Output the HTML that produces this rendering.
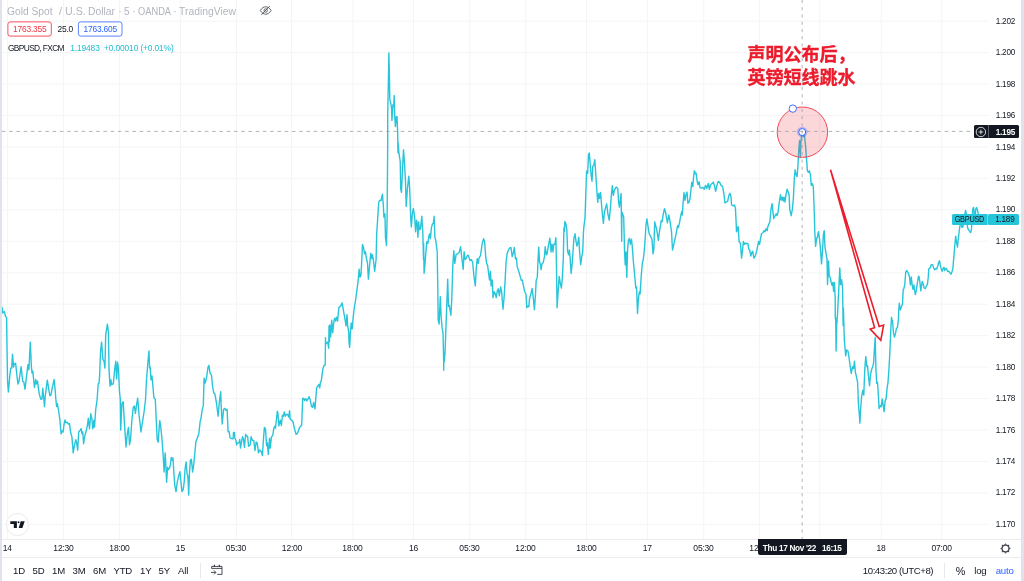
<!DOCTYPE html>
<html><head><meta charset="utf-8"><title>chart</title>
<style>
*{box-sizing:border-box;margin:0;padding:0}
html,body{width:1024px;height:581px;overflow:hidden;background:#fff}
body{position:relative;font-family:"Liberation Sans","Noto Sans CJK SC",sans-serif;color:#131722}
.chart{position:absolute;left:0;top:0}
.band{position:absolute;top:0;height:581px;background:#e0e3eb}
.pl{position:absolute;left:990px;width:25px;text-align:right;font-size:8.2px;line-height:10px;height:10px;color:#131722;letter-spacing:-0.25px;white-space:nowrap}
.tl{position:absolute;top:542.9px;width:40px;text-align:center;font-size:8.5px;line-height:10px;color:#131722;letter-spacing:-0.2px;white-space:nowrap}
.hline{position:absolute;left:2px;width:1019px;background:#eaecf2}
.title{position:absolute;left:8px;top:4.6px;font-size:10.5px;line-height:12px;color:#b2b5be;white-space:nowrap}
.title span{position:absolute;top:0;display:block;transform-origin:0 50%;white-space:nowrap}
.box{position:absolute;top:21.5px;height:15.2px;width:44.5px;border:1px solid transparent;border-radius:2.5px;font-size:8.4px;line-height:13.2px;text-align:center;letter-spacing:-0.2px}
.leg{position:absolute;top:42.5px;font-size:8.4px;line-height:11px;white-space:nowrap;letter-spacing:-0.2px}
.note{position:absolute;left:747.5px;top:44px;font-size:18px;line-height:22.6px;font-weight:700;-webkit-text-stroke:0.35px #ec1c2c;color:#ec1c2c;white-space:nowrap;font-family:"Liberation Sans","Noto Sans CJK SC",sans-serif}
.tag{position:absolute;height:11px;font-size:8.2px;line-height:11px;white-space:nowrap;letter-spacing:-0.25px}
.bt{position:absolute;top:564.5px;font-size:9.6px;line-height:12px;color:#131722;white-space:nowrap;letter-spacing:-0.2px}
.vsep{position:absolute;top:563px;height:14.5px;width:1.2px;background:#e6e9ef}
</style></head><body>
<svg class="chart" width="1024" height="581" viewBox="0 0 1024 581">
<line x1="7.4" y1="0" x2="7.4" y2="539" stroke="#f4f5f7" stroke-width="1"/>
<line x1="63.5" y1="0" x2="63.5" y2="539" stroke="#f4f5f7" stroke-width="1"/>
<line x1="119.5" y1="0" x2="119.5" y2="539" stroke="#f4f5f7" stroke-width="1"/>
<line x1="180.5" y1="0" x2="180.5" y2="539" stroke="#f4f5f7" stroke-width="1"/>
<line x1="236.5" y1="0" x2="236.5" y2="539" stroke="#f4f5f7" stroke-width="1"/>
<line x1="291.5" y1="0" x2="291.5" y2="539" stroke="#f4f5f7" stroke-width="1"/>
<line x1="353" y1="0" x2="353" y2="539" stroke="#f4f5f7" stroke-width="1"/>
<line x1="413.5" y1="0" x2="413.5" y2="539" stroke="#f4f5f7" stroke-width="1"/>
<line x1="469.7" y1="0" x2="469.7" y2="539" stroke="#f4f5f7" stroke-width="1"/>
<line x1="525.7" y1="0" x2="525.7" y2="539" stroke="#f4f5f7" stroke-width="1"/>
<line x1="586.5" y1="0" x2="586.5" y2="539" stroke="#f4f5f7" stroke-width="1"/>
<line x1="647.5" y1="0" x2="647.5" y2="539" stroke="#f4f5f7" stroke-width="1"/>
<line x1="703.7" y1="0" x2="703.7" y2="539" stroke="#f4f5f7" stroke-width="1"/>
<line x1="759.5" y1="0" x2="759.5" y2="539" stroke="#f4f5f7" stroke-width="1"/>
<line x1="819.7" y1="0" x2="819.7" y2="539" stroke="#f4f5f7" stroke-width="1"/>
<line x1="881.25" y1="0" x2="881.25" y2="539" stroke="#f4f5f7" stroke-width="1"/>
<line x1="941.7" y1="0" x2="941.7" y2="539" stroke="#f4f5f7" stroke-width="1"/>
<line x1="2" y1="21.2" x2="988.5" y2="21.2" stroke="#f4f5f7" stroke-width="1"/>
<line x1="2" y1="52.6" x2="988.5" y2="52.6" stroke="#f4f5f7" stroke-width="1"/>
<line x1="2" y1="84.1" x2="988.5" y2="84.1" stroke="#f4f5f7" stroke-width="1"/>
<line x1="2" y1="115.5" x2="988.5" y2="115.5" stroke="#f4f5f7" stroke-width="1"/>
<line x1="2" y1="147.0" x2="988.5" y2="147.0" stroke="#f4f5f7" stroke-width="1"/>
<line x1="2" y1="178.4" x2="988.5" y2="178.4" stroke="#f4f5f7" stroke-width="1"/>
<line x1="2" y1="209.9" x2="988.5" y2="209.9" stroke="#f4f5f7" stroke-width="1"/>
<line x1="2" y1="241.3" x2="988.5" y2="241.3" stroke="#f4f5f7" stroke-width="1"/>
<line x1="2" y1="272.8" x2="988.5" y2="272.8" stroke="#f4f5f7" stroke-width="1"/>
<line x1="2" y1="304.2" x2="988.5" y2="304.2" stroke="#f4f5f7" stroke-width="1"/>
<line x1="2" y1="335.7" x2="988.5" y2="335.7" stroke="#f4f5f7" stroke-width="1"/>
<line x1="2" y1="367.1" x2="988.5" y2="367.1" stroke="#f4f5f7" stroke-width="1"/>
<line x1="2" y1="398.6" x2="988.5" y2="398.6" stroke="#f4f5f7" stroke-width="1"/>
<line x1="2" y1="430.0" x2="988.5" y2="430.0" stroke="#f4f5f7" stroke-width="1"/>
<line x1="2" y1="461.5" x2="988.5" y2="461.5" stroke="#f4f5f7" stroke-width="1"/>
<line x1="2" y1="492.9" x2="988.5" y2="492.9" stroke="#f4f5f7" stroke-width="1"/>
<line x1="2" y1="524.4" x2="988.5" y2="524.4" stroke="#f4f5f7" stroke-width="1"/>
<polyline points="2.0,307.2 2.7,313.0 4.3,311.5 5.5,316.4 6.6,317.7 7.0,348.6 7.6,381.8 8.4,392.0 9.8,375.9 10.7,368.1 11.7,368.1 12.5,354.1 13.5,367.1 14.3,363.8 15.2,364.2 15.6,363.2 17.2,377.9 18.0,384.1 18.9,381.8 21.1,366.6 22.7,381.4 23.8,381.8 25.0,389.2 26.6,375.9 27.9,364.6 28.9,369.7 30.3,342.1 31.4,367.1 32.0,373.0 32.8,371.1 34.4,387.3 35.7,379.5 36.5,384.1 37.5,381.0 39.1,393.1 40.0,396.8 41.0,399.4 42.0,398.8 42.8,388.2 44.5,406.6 45.3,395.5 47.3,380.2 48.8,389.6 49.8,395.5 50.8,395.5 52.3,387.7 54.1,379.5 55.3,391.6 55.7,397.8 56.6,406.6 57.4,403.7 58.6,410.5 59.8,419.3 61.1,433.9 62.1,431.0 63.1,432.0 64.1,424.2 65.0,419.9 66.0,422.8 67.4,422.2 68.4,424.2 69.5,423.6 70.7,433.0 71.9,436.9 73.2,452.9 74.6,444.7 75.8,439.8 76.6,442.3 77.7,450.2 78.7,432.0 80.1,430.6 81.2,428.5 82.0,433.9 82.8,432.0 83.6,443.7 84.8,435.9 85.9,432.0 87.3,426.1 88.3,418.3 89.5,428.7 90.8,413.8 91.8,418.3 92.8,428.7 93.8,420.3 94.5,427.1 95.7,409.5 97.1,399.8 98.2,383.8 99.0,383.4 99.6,375.9 100.6,350.5 101.6,342.1 102.9,359.3 104.1,361.3 104.9,368.1 105.7,334.9 107.4,324.2 108.4,332.0 109.0,368.1 110.0,386.1 110.9,379.8 111.7,384.7 113.3,383.8 114.8,368.1 115.8,361.3 116.6,378.9 117.6,362.3 118.4,368.1 119.5,391.6 120.3,399.8 120.7,430.0 121.9,403.7 123.2,401.7 124.2,419.3 126.0,447.0 127.3,433.9 128.5,427.5 129.5,444.7 130.5,439.8 131.8,421.2 133.2,407.6 134.4,406.0 135.4,413.4 136.3,406.6 137.7,398.2 139.1,415.4 141.0,432.0 142.6,421.2 144.1,411.5 145.5,399.8 146.5,379.8 147.9,362.3 149.0,350.9 149.6,368.1 150.2,367.1 151.0,379.8 152.0,375.9 153.9,397.8 155.3,399.4 156.2,419.3 157.2,439.8 158.2,442.3 159.2,427.1 159.8,420.7 160.9,428.1 162.1,440.8 163.1,454.5 164.1,472.0 165.2,452.9 165.8,464.2 166.6,482.2 167.6,467.1 168.4,469.7 169.5,468.1 170.3,465.2 171.3,457.4 172.3,460.3 173.0,458.0 173.8,472.0 174.8,485.7 176.0,491.6 177.3,481.8 178.7,475.9 179.9,471.6 180.9,481.8 182.0,491.6 183.2,489.6 184.2,481.8 185.2,468.1 186.1,461.9 187.1,474.0 187.9,475.9 188.7,495.1 189.5,472.0 190.4,460.3 191.4,459.3 192.6,472.0 193.8,464.2 194.9,452.5 195.9,441.6 197.4,437.7 198.8,433.8 200.2,421.1 200.9,419.1 202.1,410.3 203.3,405.4 204.1,378.1 205.2,383.0 206.6,377.1 208.0,367.3 208.9,365.4 210.1,373.2 211.5,375.2 212.5,385.9 213.8,393.1 214.8,393.7 216.4,402.5 218.1,416.2 219.3,402.5 220.7,391.8 221.2,406.4 222.2,424.0 223.6,409.3 224.8,408.4 225.9,410.3 227.1,409.3 228.1,431.8 229.1,431.4 230.0,437.7 231.4,438.6 233.1,438.8 233.5,432.5 234.5,432.5 234.8,438.0 235.9,440.3 236.6,445.0 237.4,443.0 239.0,442.7 239.8,439.5 240.5,448.1 241.7,441.1 242.5,436.8 243.4,438.8 244.5,447.3 245.6,434.5 246.6,436.0 247.6,436.4 248.6,446.2 250.2,445.0 251.1,436.8 252.3,440.3 253.8,440.7 255.0,450.5 256.2,441.9 257.3,443.4 258.5,452.8 259.7,450.1 261.2,451.6 262.4,455.5 263.6,437.2 264.4,427.4 265.5,429.0 266.6,445.8 267.3,442.7 268.3,454.4 269.5,438.4 270.2,448.1 271.4,437.2 272.8,435.2 273.8,428.6 274.7,426.2 275.5,428.2 277.3,411.3 277.9,413.2 278.9,425.9 279.8,422.0 280.4,420.1 281.4,425.5 282.4,415.2 283.4,416.2 284.3,411.9 285.3,416.2 286.7,414.2 287.7,414.6 288.8,417.1 289.6,410.7 290.2,419.1 291.6,420.1 293.1,422.0 294.5,428.9 296.1,434.3 297.4,433.4 299.4,427.9 300.5,426.5 301.7,425.0 302.7,398.6 303.7,398.2 304.6,400.5 305.8,398.6 306.8,400.9 308.2,398.6 309.1,396.6 310.1,399.6 311.5,406.4 312.7,407.4 313.6,402.5 315.0,408.8 316.6,387.9 317.9,385.9 318.9,384.5 319.7,387.9 320.5,382.0 321.2,381.4 322.8,369.3 324.0,365.4 325.2,365.0 325.5,337.7 325.7,343.9 327.7,342.0 328.7,348.2 329.0,325.9 329.5,341.6 329.8,325.0 330.7,336.7 331.7,320.1 332.7,332.8 333.7,323.0 334.6,318.1 335.6,321.1 336.6,317.1 337.6,321.1 338.9,307.4 340.5,306.4 342.1,302.9 343.4,310.3 345.0,319.1 346.0,325.9 347.0,314.6 347.7,325.9 348.7,331.8 349.0,341.6 349.6,347.4 350.0,341.6 350.3,333.8 351.2,323.0 352.2,328.9 353.2,317.1 354.2,308.4 355.5,300.5 357.1,288.8 358.3,279.1 359.1,269.3 360.0,277.1 361.0,275.2 361.6,263.4 362.5,244.5 363.6,247.8 364.5,253.7 365.3,251.7 366.5,258.6 367.5,263.4 368.4,279.1 369.6,265.4 370.8,253.3 371.8,258.6 372.3,254.6 373.3,259.5 374.7,271.2 376.1,259.5 376.7,233.8 377.7,218.1 378.7,202.5 379.6,200.5 381.0,200.5 382.4,194.3 383.4,206.4 383.9,217.1 384.9,213.8 385.5,237.7 386.5,245.5 387.1,218.1 387.5,169.3 387.7,143.9 387.7,115.2 388.4,80.1 388.9,52.9 389.5,80.1 389.8,99.4 390.7,102.9 391.6,108.2 391.9,120.4 393.0,104.6 393.7,106.4 394.2,95.5 394.7,115.2 395.4,126.6 396.3,116.9 397.0,116.6 397.7,132.7 397.8,143.9 398.0,152.7 398.1,142.4 399.0,153.7 400.2,161.5 400.7,188.8 401.5,192.3 402.5,169.3 403.5,149.8 404.5,163.4 405.4,179.1 406.2,206.4 407.4,188.8 408.8,176.1 409.7,188.8 410.7,218.1 411.3,226.9 412.3,214.2 413.4,208.4 414.6,217.1 415.6,231.8 416.6,220.1 417.3,224.0 417.9,237.3 418.7,222.0 419.5,229.8 420.5,228.9 421.8,216.2 422.8,231.8 423.5,259.5 423.6,243.5 424.1,273.2 424.9,265.4 425.9,251.7 426.9,241.6 427.9,243.5 428.9,235.7 429.8,233.8 430.4,238.6 431.4,227.9 432.4,224.0 433.4,223.0 434.1,216.2 434.9,237.7 435.7,240.0 437.2,251.7 437.8,288.8 438.2,320.1 439.1,324.0 440.3,296.6 441.1,316.2 442.1,327.9 443.0,332.8 443.7,362.0 443.7,370.3 443.8,353.1 444.2,362.0 445.0,353.1 446.0,325.9 447.0,298.6 447.7,279.1 448.5,306.4 449.3,305.4 450.9,315.2 451.8,298.6 452.8,265.4 453.8,250.7 454.8,263.4 456.1,254.6 457.7,253.7 459.1,252.7 460.6,246.8 462.0,259.5 463.2,269.3 464.1,251.7 465.1,259.5 466.1,258.6 467.5,255.2 468.4,255.6 470.0,260.5 471.4,259.5 472.7,262.5 473.9,276.1 475.3,285.9 476.2,269.3 477.2,258.6 478.2,263.4 479.2,257.6 480.5,255.6 482.2,243.5 483.6,238.6 484.7,242.5 485.6,255.6 486.6,263.4 487.6,265.4 488.6,273.2 489.5,280.0 490.5,271.2 491.1,285.9 492.3,280.0 493.0,297.6 494.2,291.8 495.2,293.7 496.2,297.6 497.3,290.8 498.3,288.8 499.3,295.7 500.7,286.9 501.6,291.8 503.0,309.3 504.0,298.6 505.2,279.1 506.1,261.5 507.1,253.7 508.5,249.8 509.8,247.8 511.0,247.8 512.2,256.6 513.4,252.7 514.3,247.4 515.5,258.8 516.4,257.9 517.2,266.6 518.8,271.5 520.2,276.4 521.3,280.3 522.3,279.9 523.7,287.1 524.8,292.0 526.0,294.0 526.8,307.7 528.0,306.1 528.8,306.7 529.5,298.9 531.1,293.0 532.1,288.5 533.4,298.9 534.4,309.6 535.4,295.9 536.2,280.3 537.3,277.4 538.1,258.8 538.7,247.1 539.5,261.8 540.5,264.7 541.1,269.6 542.0,263.7 543.2,262.7 544.4,256.9 545.2,246.7 546.3,254.9 547.1,253.9 548.3,246.1 549.8,238.3 550.6,245.2 551.0,252.0 552.0,244.2 553.0,252.0 553.8,244.2 554.9,244.2 555.9,237.7 556.5,268.6 557.1,307.7 558.0,294.0 559.2,276.4 560.4,284.2 561.4,288.1 562.3,278.4 563.3,258.8 563.9,227.7 564.3,231.5 564.9,221.4 565.9,223.8 566.8,229.6 567.6,251.0 568.6,254.9 569.4,250.0 570.2,258.8 571.1,273.5 572.1,264.7 572.9,253.0 573.9,238.3 575.0,233.8 576.0,241.2 577.0,246.1 577.8,243.2 578.8,237.3 579.7,253.0 580.7,264.7 581.7,256.9 582.7,252.0 583.4,233.4 583.8,227.7 585.0,217.9 585.8,194.5 586.6,171.0 587.7,173.4 588.5,154.4 589.3,153.0 590.3,165.2 591.2,175.9 592.0,181.2 592.8,166.1 593.8,165.2 594.8,159.7 595.7,173.0 596.7,188.6 597.7,202.3 598.7,193.5 599.6,198.4 600.6,192.5 601.8,208.1 603.4,223.4 604.5,212.0 605.7,207.1 606.7,203.8 607.9,214.0 609.2,220.2 610.4,208.1 611.4,194.5 612.3,185.7 613.3,195.4 614.3,190.5 615.7,187.6 616.6,187.2 617.8,188.6 618.6,202.3 619.4,207.1 620.2,200.3 621.1,193.5 621.7,241.2 621.9,212.0 623.7,216.9 624.6,253.0 625.2,264.7 626.0,252.0 626.8,277.4 627.6,249.1 628.4,240.3 629.5,238.3 630.3,244.2 631.5,239.3 632.3,247.1 633.4,261.8 634.6,274.5 635.8,288.1 636.6,287.1 637.5,313.5 638.5,297.9 639.3,292.0 640.1,294.0 641.2,276.4 642.4,262.7 643.4,258.8 644.4,249.1 645.4,235.4 645.9,225.7 646.9,218.9 647.9,225.7 649.1,233.4 650.6,236.4 652.0,239.3 653.0,253.9 653.9,249.1 654.7,221.8 656.7,229.6 657.5,234.4 658.4,240.3 659.2,233.4 661.2,220.8 662.1,221.8 663.1,215.0 664.5,208.7 665.5,212.0 666.4,216.9 667.4,222.8 668.8,215.0 669.8,219.8 670.9,227.7 671.5,231.5 672.5,250.0 674.1,243.2 675.6,236.4 677.6,225.7 678.4,227.7 679.5,222.8 680.7,215.9 681.7,211.6 682.3,215.0 683.0,204.2 684.0,192.5 685.0,200.3 686.0,194.5 687.0,192.1 687.9,203.2 688.9,202.3 689.9,199.3 690.9,190.5 691.8,182.3 692.8,186.6 693.6,176.9 694.4,170.6 695.4,173.9 696.1,173.0 697.1,180.8 697.9,184.7 699.1,181.8 700.0,187.6 701.2,188.2 702.9,187.4 704.3,189.3 705.5,185.4 706.8,188.4 708.2,183.5 709.4,189.3 710.7,184.5 712.1,183.5 713.3,182.1 714.6,186.4 715.6,191.3 717.2,184.5 718.2,181.5 719.5,182.1 721.1,185.4 722.5,186.4 723.8,193.2 725.0,203.0 726.4,202.0 727.7,201.1 728.9,195.2 729.9,193.2 730.9,196.2 731.6,205.0 733.2,205.9 734.4,205.0 735.4,207.9 736.1,221.6 736.5,231.7 738.1,226.4 739.1,241.5 740.4,243.4 741.6,258.1 742.6,249.3 743.4,241.5 744.5,244.4 745.7,243.0 746.9,243.8 747.9,243.4 748.8,249.3 749.8,250.3 750.8,256.1 752.0,252.2 752.7,251.2 753.9,258.1 755.3,256.1 756.6,251.2 757.8,245.4 758.6,241.5 759.6,244.4 760.5,238.6 761.5,233.7 762.9,232.7 764.1,230.7 765.0,231.7 766.0,228.8 767.2,230.7 767.6,227.4 769.9,221.6 770.9,209.8 772.1,203.6 772.9,211.8 773.8,218.6 775.0,215.7 776.2,213.8 777.1,215.7 778.1,211.8 779.3,202.0 780.5,194.8 781.4,200.1 782.4,197.1 783.2,201.1 784.0,197.1 785.0,202.0 785.9,195.2 787.1,189.3 788.3,192.3 789.1,195.2 789.8,209.8 791.2,215.7 792.4,208.9 793.4,198.1 794.3,178.6 795.1,169.8 796.1,174.7 797.1,176.6 798.0,164.9 798.8,149.3 799.6,140.5 800.4,157.1 801.0,141.5 802.0,131.7 803.5,136.6 804.5,135.6 805.5,145.4 806.4,157.1 807.4,170.8 808.4,172.3 809.4,170.8 810.4,174.7 811.3,185.4 812.3,183.5 813.3,186.4 813.9,202.0 814.6,223.5 814.8,231.7 815.6,246.4 816.6,238.6 817.6,236.6 818.4,231.7 819.5,238.6 820.5,249.3 821.5,263.9 822.5,251.2 823.4,234.6 824.2,230.7 825.0,247.3 826.0,253.2 827.0,259.1 827.5,284.5 828.5,261.0 829.3,276.6 830.3,277.6 831.2,282.5 832.0,285.4 832.8,282.5 833.6,291.3 834.4,282.5 835.2,298.1 835.3,318.8 835.7,317.7 836.1,351.0 836.7,324.6 837.3,318.2 838.3,298.1 839.3,278.6 839.8,267.9 840.6,284.5 841.6,279.6 842.6,288.4 843.1,325.6 843.4,307.9 844.3,339.3 845.7,355.9 846.6,350.0 848.0,351.0 849.2,358.8 850.2,366.6 851.3,373.5 852.5,366.6 853.5,368.6 854.5,361.2 855.4,372.5 856.4,376.4 857.6,382.3 858.4,403.8 859.1,411.6 859.9,423.1 860.7,407.7 861.7,395.9 862.9,390.1 863.8,395.0 864.8,368.6 865.8,356.5 866.8,366.6 867.5,365.7 868.5,376.4 869.5,385.8 870.5,374.5 871.6,369.6 872.8,366.6 873.6,362.7 874.4,349.1 875.2,337.3 875.9,368.6 876.7,383.2 877.5,382.3 878.3,394.0 879.1,408.6 880.2,405.7 881.2,406.7 882.2,398.9 883.2,405.7 884.1,411.6 885.1,400.8 886.1,398.9 887.1,388.1 888.0,382.3 889.0,368.6 890.0,349.1 890.8,329.5 891.5,317.3 891.6,318.8 892.5,320.7 893.5,333.4 894.5,337.0 895.5,333.4 896.4,328.6 897.4,327.6 898.4,319.8 898.7,310.7 899.3,303.3 900.3,309.9 901.3,307.0 902.5,304.1 903.2,289.4 903.9,288.7 904.8,284.3 905.7,272.6 906.6,270.4 907.6,271.8 908.6,274.0 909.5,277.0 910.4,285.0 911.3,277.0 912.1,284.3 913.0,289.4 913.9,285.0 914.8,291.6 915.4,294.5 916.4,289.4 917.4,282.8 918.3,277.0 918.9,276.2 919.8,281.4 920.8,290.9 921.5,285.8 922.3,281.4 923.3,284.3 924.2,288.0 925.2,288.7 926.2,286.5 927.4,284.3 928.3,277.0 928.8,268.9 930.0,268.2 931.0,265.3 931.4,264.7 932.6,264.7 933.8,268.4 934.8,269.8 935.8,268.4 936.7,269.1 937.7,266.2 938.7,262.5 939.5,260.7 940.2,264.7 941.1,268.4 942.1,271.3 943.1,268.4 943.9,267.3 944.7,270.6 945.5,268.4 946.5,268.4 947.5,271.3 948.7,271.3 949.9,272.8 950.9,274.2 951.9,272.0 952.8,269.1 953.8,257.4 954.9,244.2 955.7,236.1 956.5,242.0 957.5,247.1 958.2,239.8 959.2,231.0 960.1,225.2 961.2,223.0 961.9,227.4 962.9,226.6 963.6,223.0 964.5,216.4 965.5,210.5 966.3,213.4 967.0,223.0 967.7,228.1 968.9,230.3 969.9,231.7 970.7,232.5 971.4,229.5 972.1,219.3 972.9,208.3 973.6,207.6 974.3,213.4 975.1,217.1 975.8,209.0 976.5,207.6 977.4,209.8 978.3,214.2" fill="none" stroke="#28c5da" stroke-width="1.4" stroke-linejoin="round" stroke-linecap="round"/>
<circle cx="802.4" cy="132.2" r="25.2" fill="rgba(242,54,69,0.2)" stroke="#f23645" stroke-width="0.9"/>
<circle cx="792.8" cy="108.6" r="3.7" fill="#fff" stroke="#2962ff" stroke-width="0.9"/>
<circle cx="802.2" cy="132.05" r="4.6" fill="none" stroke="#2962ff" stroke-opacity="0.3" stroke-width="1.6"/>
<circle cx="802.2" cy="132.05" r="3.5" fill="#fff" stroke="#2962ff" stroke-width="1"/>
<path d="M830.5,169.8 L874.6,327.7 L870.2,329.05 L880.8,340.4 L883.6,325.1 L879.2,326.4 Z" fill="#fff" fill-opacity="0.6" stroke="#ec1c2c" stroke-width="1.6" stroke-linejoin="miter"/>
</svg>
<div class="band" style="left:0;width:2px"></div>
<div class="band" style="left:1021px;width:3px"></div>
<div class="hline" style="top:538.7px;height:1.1px"></div>
<div class="hline" style="top:556.9px;height:1.3px"></div>
<div style="position:absolute;left:2px;top:558.2px;width:1019px;height:23px;background:#fff"></div>
<div class="pl" style="top:16.7px">1.202</div><div class="pl" style="top:48.1px">1.200</div><div class="pl" style="top:79.6px">1.198</div><div class="pl" style="top:111.0px">1.196</div><div class="pl" style="top:142.5px">1.194</div><div class="pl" style="top:173.9px">1.192</div><div class="pl" style="top:205.4px">1.190</div><div class="pl" style="top:236.8px">1.188</div><div class="pl" style="top:268.3px">1.186</div><div class="pl" style="top:299.8px">1.184</div><div class="pl" style="top:331.2px">1.182</div><div class="pl" style="top:362.6px">1.180</div><div class="pl" style="top:394.1px">1.178</div><div class="pl" style="top:425.5px">1.176</div><div class="pl" style="top:457.0px">1.174</div><div class="pl" style="top:488.4px">1.172</div><div class="pl" style="top:519.9px">1.170</div>
<div class="tl" style="left:-12.7px">14</div><div class="tl" style="left:43.5px">12:30</div><div class="tl" style="left:99.5px">18:00</div><div class="tl" style="left:160.4px">15</div><div class="tl" style="left:216.0px">05:30</div><div class="tl" style="left:272.0px">12:00</div><div class="tl" style="left:332.5px">18:00</div><div class="tl" style="left:393.5px">16</div><div class="tl" style="left:449.5px">05:30</div><div class="tl" style="left:505.5px">12:00</div><div class="tl" style="left:566.5px">18:00</div><div class="tl" style="left:627.3px">17</div><div class="tl" style="left:683.5px">05:30</div><div class="tl" style="left:739.5px">12:00</div><div class="tl" style="left:861.0px">18</div><div class="tl" style="left:921.6px">07:00</div>
<div class="title"><span style="left:-0.70px;transform:scaleX(0.975)">Gold Spot</span><span style="left:50.90px;transform:scaleX(1.0)">/</span><span style="left:57.20px;transform:scaleX(1.02)">U.S.</span><span style="left:80.00px;transform:scaleX(0.985)">Dollar</span><span style="left:110.15px;transform:scaleX(1)">·</span><span style="left:116.30px;transform:scaleX(0.95)">5</span><span style="left:124.15px;transform:scaleX(1)">·</span><span style="left:129.60px;transform:scaleX(0.885)">OANDA</span><span style="left:165.15px;transform:scaleX(1)">·</span><span style="left:170.70px;transform:scaleX(0.985)">TradingView</span></div>
<svg style="position:absolute;left:259px;top:4px" width="14" height="13" viewBox="0 0 14 13"><g fill="none" stroke="#50535e" stroke-width="0.9"><path d="M1.3,6.5 C3,3.6 5,2.8 6.7,2.8 C8.4,2.8 10.4,3.6 12.1,6.5 C10.4,9.4 8.4,10.2 6.7,10.2 C5,10.2 3,9.4 1.3,6.5 Z"/><circle cx="6.7" cy="6.5" r="1.7"/><path d="M2.4,10.8 L10.8,2"/></g></svg>
<svg class="chart" width="140" height="40" viewBox="0 0 140 40"><rect x="7.9" y="21.9" width="43.4" height="14.2" rx="2.3" fill="#fff" stroke="#f7525f" stroke-width="1"/><rect x="78.4" y="21.9" width="43.6" height="14.2" rx="2.3" fill="#fff" stroke="#5b84ff" stroke-width="1"/></svg>
<div class="box" style="left:7.5px;color:#f23645">1763.355</div>
<div class="leg" style="left:57.5px;top:23.5px;color:#131722">25.0</div>
<div class="box" style="left:78px;color:#2962ff">1763.605</div>
<div class="leg" style="left:8px;color:#131722;letter-spacing:-0.65px">GBPUSD, FXCM</div>
<div class="leg" style="left:70.3px;color:#22bcd4;letter-spacing:-0.13px">1.19483 &nbsp;+0.00010 (+0.01%)</div>
<div class="note">声明公布后，<br>英镑短线跳水</div>
<svg class="chart" width="1024" height="540" viewBox="0 0 1024 540"><line x1="1.9" y1="131.4" x2="972" y2="131.4" stroke="#9598a1" stroke-width="0.75" stroke-dasharray="3.5 3.752"/><line x1="802.15" y1="-0.1" x2="802.15" y2="539" stroke="#9598a1" stroke-width="0.75" stroke-dasharray="3.15 4.105"/></svg>
<!-- crosshair price tag -->
<div class="tag" style="left:974px;top:124.6px;width:44.5px;height:13.6px;background:#131722;border-radius:1.5px"></div>
<div style="position:absolute;left:987.8px;top:124.6px;width:1px;height:13.6px;background:#5d606b"></div>
<svg style="position:absolute;left:975px;top:125.5px" width="12" height="12" viewBox="0 0 12 12"><g fill="none" stroke="#fff" stroke-width="0.8"><circle cx="5.9" cy="6" r="4.7"/><path d="M5.9,3.6 V8.4 M3.5,6 H8.3"/></g></svg>
<div class="tag" style="left:990px;top:126.8px;width:25px;text-align:right;color:#fff;font-weight:700">1.195</div>
<!-- GBPUSD tag -->
<div class="tag" style="left:952px;top:213.9px;width:35.6px;height:10.8px;background:#26c6da;border-radius:1.5px;color:#131722;text-align:center;line-height:12.9px;letter-spacing:-0.3px;overflow:hidden"><span style="display:inline-block;transform:scaleX(0.9)">GBPUSD</span></div>
<div class="tag" style="left:988.4px;top:213.9px;width:30.6px;height:10.8px;background:#26c6da;border-radius:1.5px;color:#131722;line-height:12.9px;overflow:hidden"><span style="position:absolute;right:4.5px">1.189</span></div>
<div style="position:absolute;left:987.4px;top:213.9px;width:0.9px;height:10.8px;background:#6fd9e7"></div>
<!-- time tag -->
<div class="tag" style="left:757.5px;top:538.8px;width:89.3px;height:15.8px;background:#131722;border-radius:0 0 2px 2px;color:#fff;font-weight:700;line-height:19.6px;text-align:center;font-size:8.2px;letter-spacing:-0.3px">Thu 17 Nov '22 &nbsp;&nbsp;16:15</div>
<!-- logo -->
<div style="position:absolute;left:6.3px;top:513.2px;width:22.4px;height:22.4px;border-radius:50%;background:#fff;border:1px solid #ececf0"></div>
<svg style="position:absolute;left:9px;top:519.1px" width="18" height="11" viewBox="0 0 18 11"><g fill="#131722"><path d="M1.3,2.2 H7.9 V8.9 H4.8 V4.9 H1.3 Z"/><circle cx="9.55" cy="3.2" r="1"/><path d="M11.7,2.2 H15.7 L13.4,8.9 H9.7 Z"/></g></svg>
<!-- gear -->
<svg style="position:absolute;left:998.74px;top:541.8px" width="13" height="13" viewBox="-6.5 -6.5 13 13"><circle cx="0" cy="0" r="3.4" fill="none" stroke="#434651" stroke-width="1.2"/><path d="M1.25,-3.70 L0.00,-5.30 L-1.25,-3.70 Z M3.50,-1.73 L3.75,-3.75 L1.73,-3.50 Z M3.70,1.25 L5.30,0.00 L3.70,-1.25 Z M1.73,3.50 L3.75,3.75 L3.50,1.73 Z M-1.25,3.70 L0.00,5.30 L1.25,3.70 Z M-3.50,1.73 L-3.75,3.75 L-1.73,3.50 Z M-3.70,-1.25 L-5.30,0.00 L-3.70,1.25 Z M-1.73,-3.50 L-3.75,-3.75 L-3.50,-1.73 Z" fill="#434651"/></svg>
<!-- bottom toolbar -->
<div class="bt" style="left:13px">1D</div><div class="bt" style="left:32.5px">5D</div><div class="bt" style="left:52px">1M</div><div class="bt" style="left:72.5px">3M</div><div class="bt" style="left:93px">6M</div><div class="bt" style="left:113.5px">YTD</div><div class="bt" style="left:140px">1Y</div><div class="bt" style="left:158.5px">5Y</div><div class="bt" style="left:178px">All</div>
<div class="vsep" style="left:199.6px"></div>
<svg style="position:absolute;left:209px;top:563px" width="16" height="14" viewBox="0 0 16 14"><g fill="none" stroke="#2a2e39" stroke-width="0.85"><path d="M2.7,5.6 V3.4 H13 V11.4 H8.2"/><path d="M2.7,5.4 H13"/><path d="M5.4,1.8 V3.8 M10.3,1.8 V3.8" stroke-width="1.1"/><path d="M2,9.4 H6.8 M4.9,7.4 L6.9,9.4 L4.9,11.4"/></g></svg>
<div class="bt" style="left:862.8px;letter-spacing:-0.42px">10:43:20 (UTC+8)</div>
<div class="vsep" style="left:943.8px"></div>
<div class="bt" style="left:955.8px;font-size:10.8px">%</div><div class="bt" style="left:974.3px">log</div><div class="bt" style="left:995.7px;color:#2962ff">auto</div>
</body></html>
